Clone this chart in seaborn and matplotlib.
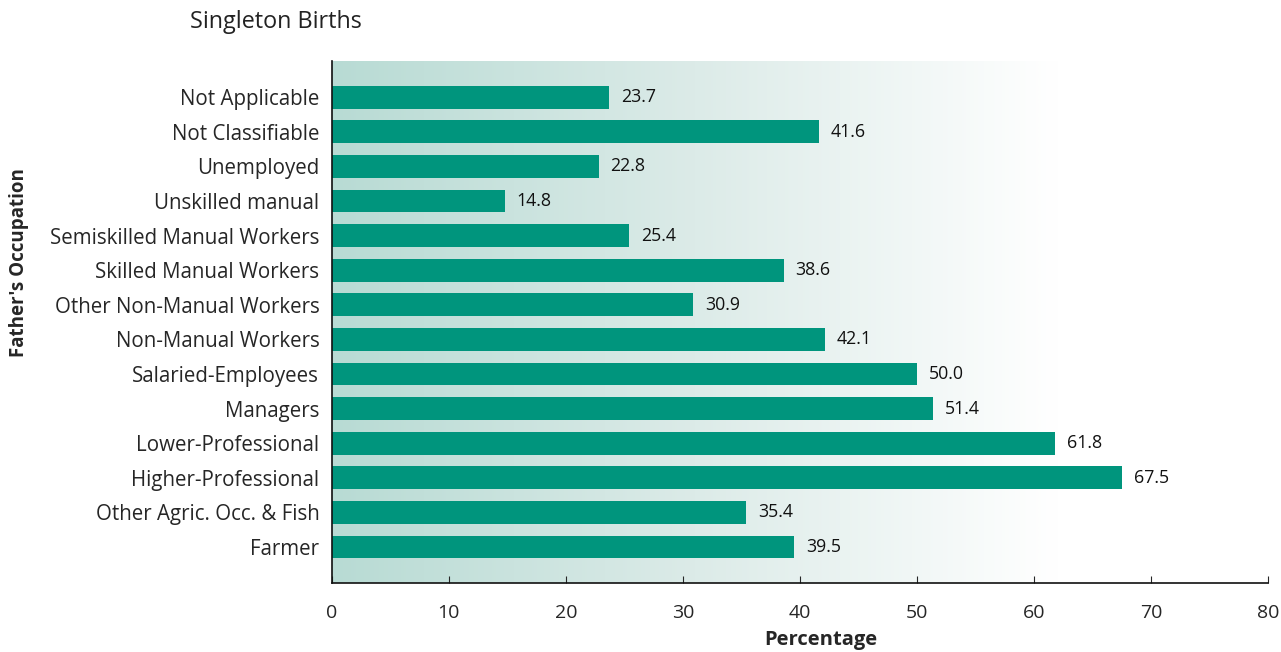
import numpy as np
import pandas as pd
import matplotlib
matplotlib.use("Agg")
import matplotlib.pyplot as plt
import seaborn as sns
from matplotlib.colors import LinearSegmentedColormap

occupations = ["Not Applicable", "Not Classifiable", "Unemployed", "Unskilled manual",
               "Semiskilled Manual Workers", "Skilled Manual Workers",
               "Other Non-Manual Workers", "Non-Manual Workers", "Salaried-Employees",
               "Managers", "Lower-Professional", "Higher-Professional",
               "Other Agric. Occ. & Fish", "Farmer"]
percentages = [23.7, 41.6, 22.8, 14.8, 25.4, 38.6, 30.9, 42.1, 50.0, 51.4, 61.8, 67.5, 35.4, 39.5]
x_ticks = [0, 10, 20, 30, 40, 50, 60, 70, 80]

df = pd.DataFrame({"occupation": occupations, "pct": percentages})

sns.set_style("ticks")
plt.rcParams['font.family'] = ['Open Sans', 'DejaVu Sans']

fig = plt.figure(figsize=(12.81, 6.52), dpi=100)
ax = fig.add_axes([0.259, 0.106, 0.731, 0.8])

# gradient background fading to white
cmap = LinearSegmentedColormap.from_list("bg", ["#b8dbd4", "#dcebe8", "#ffffff"])
grad = np.linspace(0, 1, 256).reshape(1, -1)
ax.imshow(grad, cmap=cmap, aspect="auto", extent=[0, 62, len(occupations) + 0.04, -1.04],
          zorder=0, interpolation="bicubic")

sns.barplot(data=df, x="pct", y="occupation", color="#00957d", saturation=1,
            width=0.66, ax=ax, zorder=2, linewidth=0, edgecolor="none")

for i, v in enumerate(percentages):
    ax.text(v + 1.0, i, f"{v:.1f}", va="center", ha="left", fontsize=12.8, color="#111111")

ax.set_xlim(0, 80)
ax.set_ylim(len(occupations) - 1 + 1.04, -1.04)
ax.set_xticks(x_ticks)
ax.tick_params(axis="x", direction="in", length=5, labelsize=14, pad=15)
ax.tick_params(axis="y", length=0, labelsize=14.8, pad=9)
ax.set_xlabel("Percentage", fontsize=14.5, fontweight="bold")
ax.xaxis.set_label_coords((821 - 332) / 936, -(630 - 583) / 522)
ax.set_ylabel("Father's Occupation", fontsize=13.5, fontweight="bold")
ax.yaxis.set_label_coords((29 - 332) / 936, (583 - 262) / 522)
for s in ["top", "right"]:
    ax.spines[s].set_visible(False)
for s in ["left", "bottom"]:
    ax.spines[s].set_color("#111111")
    ax.spines[s].set_linewidth(1.2)

fig.text(190 / 1281, 1 - 22 / 652, "Singleton Births", fontsize=16.8, va="center", ha="left",
         color="#222222")

fig.savefig("out.png", dpi=100)
